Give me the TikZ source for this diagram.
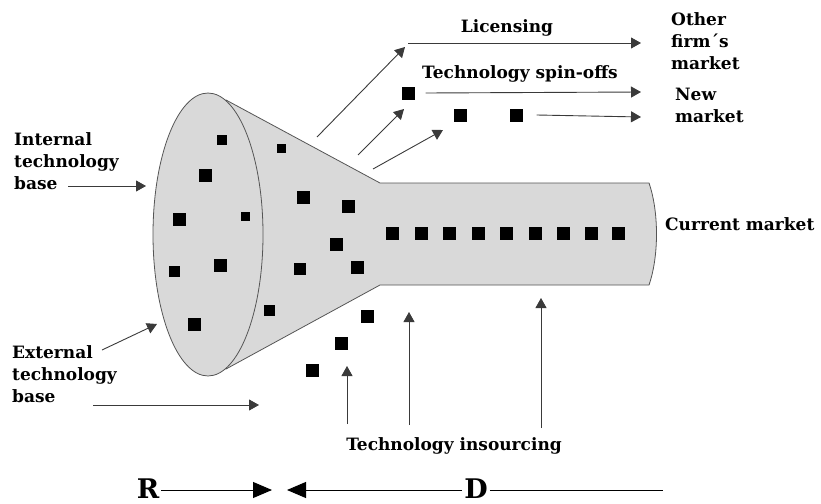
\documentclass[tikz,border=0pt]{standalone}
\usepackage{fontspec}
\setmainfont{DejaVu Serif}
\usetikzlibrary{arrows.meta}
\definecolor{bodygray}{HTML}{D9D9D9}
\definecolor{edgegray}{HTML}{555555}
\definecolor{linegray}{HTML}{3A3A3A}
\tikzset{
  lbl/.style={font=\bfseries\fontsize{17}{22}\selectfont, inner sep=0pt, align=left},
  bigletter/.style={font=\bfseries\fontsize{27}{27}\selectfont, inner sep=0pt},
  flow/.style={draw=linegray, line width=0.9pt, -{Triangle[length=10pt,width=11pt]}},
  bigflow/.style={draw=black, line width=0.9pt, -{Triangle[length=19pt,width=16pt]}},
  sq/.style={fill=black, inner sep=0pt, minimum size=#1},
  sq/.default=13pt,
}
\begin{document}
\begin{tikzpicture}[x=1pt,y=-1pt]
\useasboundingbox (0,0) rectangle (821,503);

% funnel body: cone and tube
\filldraw[fill=bodygray, draw=edgegray, line width=0.8pt]
  (226,100) -- (380,183) -- (649,183)
  .. controls (659,212) and (659,256) .. (649,285)
  -- (380,285) -- (226,369) -- cycle;
% mouth of the funnel
\filldraw[fill=bodygray, draw=edgegray, line width=0.8pt]
  (208,234.5) ellipse [x radius=55pt, y radius=141.5pt];

% technologies inside the mouth
\node[sq=10pt] (m1) at (222,140) {};
\node[sq] (m2) at (205,175) {};
\node[sq] (m3) at (179,219) {};
\node[sq=9pt] (m4) at (245,216) {};
\node[sq=11pt] (m5) at (174,271) {};
\node[sq] (m6) at (220,265) {};
\node[sq] (m7) at (194,324) {};
% technologies in the cone
\node[sq=9pt] (c1) at (281,148) {};
\node[sq] (c2) at (303,197) {};
\node[sq] (c3) at (348,206) {};
\node[sq] (c4) at (336,244) {};
\node[sq=12pt] (c5) at (300,269) {};
\node[sq] (c6) at (357,267) {};
\node[sq=11pt] (c7) at (269,310) {};
% technologies in the tube
\foreach \i/\x in {1/392,2/421,3/449,4/478,5/506,6/535,7/563,8/591,9/618}
  \node[sq, name=t\i] at (\x,233) {};
% technologies leaving the funnel
\node[sq] (o1) at (408,93) {};
\node[sq] (o2) at (460,115) {};
\node[sq] (o3) at (516,115) {};
% technologies entering the funnel
\node[sq] (e1) at (367,316) {};
\node[sq] (e2) at (341,343) {};
\node[sq] (e3) at (312,370) {};

% outflow arrows
\coordinate (licA) at (317,137); \coordinate (licB) at (405,47);
\coordinate (licC) at (408,43);  \coordinate (licD) at (641,43);
\coordinate (spA) at (358,155);  \coordinate (spB) at (404,109);
\coordinate (spD) at (641,92);
\coordinate (nwA) at (373,169);  \coordinate (nwB) at (443,130);
\coordinate (nwD) at (641,117);
\draw[flow] (licA) -- (licB);
\draw[flow] (licC) -- (licD);
\draw[flow] (spA) -- (spB);
\draw[flow] ([xshift=11pt]o1.east) -- (spD);
\draw[flow] (nwA) -- (nwB);
\draw[flow] ([xshift=14pt]o3.east) -- (nwD);

% inflow arrows
\coordinate (inA) at (68,186);  \coordinate (inB) at (146,186);
\coordinate (exA) at (102,350); \coordinate (exB) at (157,324);
\coordinate (exC) at (93,405);  \coordinate (exD) at (259,405);
\draw[flow] (inA) -- (inB);
\draw[flow] (exA) -- (exB);
\draw[flow] (exC) -- (exD);
\coordinate (isA1) at (347,424); \coordinate (isB1) at (347,366);
\coordinate (isA2) at (409,425); \coordinate (isB2) at (409,312);
\coordinate (isA3) at (541,428); \coordinate (isB3) at (541,298);
\draw[flow] (isA1) -- (isB1);
\draw[flow] (isA2) -- (isB2);
\draw[flow] (isA3) -- (isB3);

% labels
\node[lbl, anchor=base] (lic) at (507,33) {Licensing};
\node[lbl, anchor=base] (spin) at (520,78) {Technology spin-offs};
\node[lbl, anchor=north west] (other) at (671,12) {Other\\firm´s\\market};
\node[lbl, anchor=north west] (new) at (675,88) {New\\market};
\node[lbl, anchor=base west] (cur) at (665,230) {Current market};
\node[lbl, anchor=north west] (int) at (14,132) {Internal\\technology\\base};
\node[lbl, anchor=north west] (ext) at (12,345) {External\\technology\\base};
\node[lbl, anchor=base] (ins) at (454,450) {Technology insourcing};

% research and development axis
\node[bigletter, anchor=base] (R) at (148,498) {R};
\node[bigletter, anchor=base] (D) at (476,498) {D};
\coordinate (rtip) at (272,490);
\coordinate (ltip) at (287,490);
\coordinate (dend) at (663,490);
\draw[bigflow] ([xshift=2pt]R.east |- rtip) -- (rtip);
\draw[bigflow] ([xshift=-2pt]D.west |- ltip) -- (ltip);
\draw[black, line width=0.9pt] ([xshift=2pt]D.east |- dend) -- (dend);
\end{tikzpicture}
\end{document}
